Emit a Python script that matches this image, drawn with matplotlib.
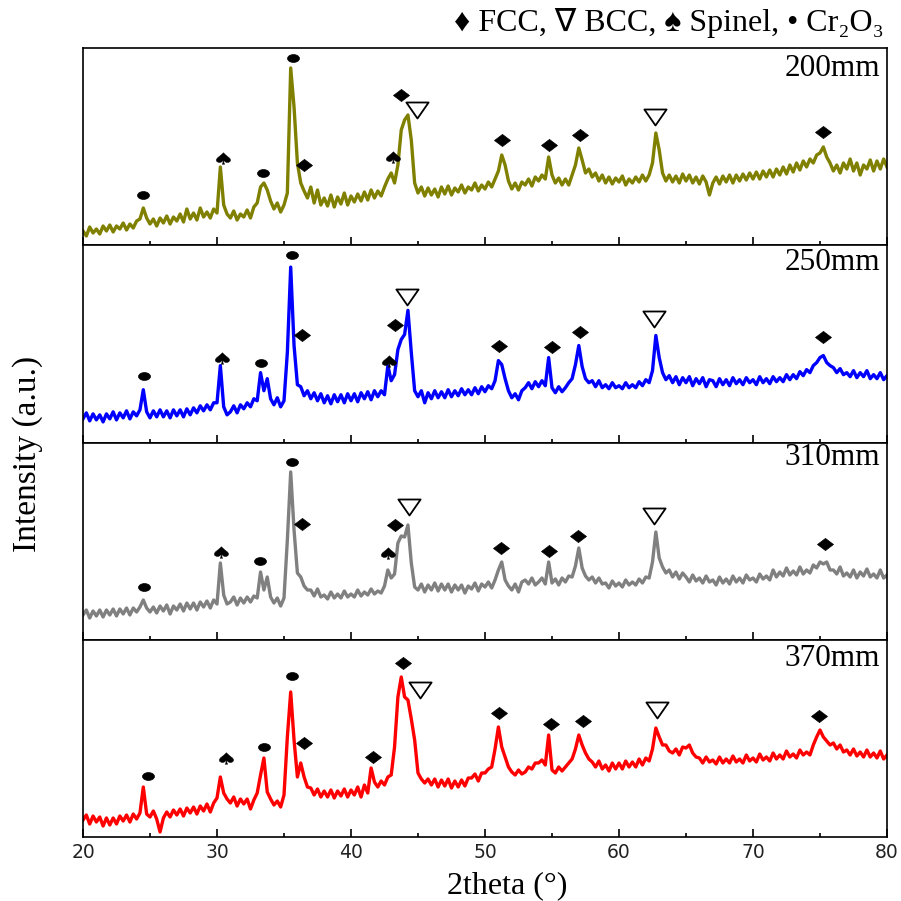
import numpy as np
import matplotlib
matplotlib.use('Agg')
import matplotlib.pyplot as plt
from matplotlib.path import Path
from matplotlib.textpath import TextPath
from matplotlib.font_manager import FontProperties
from matplotlib.ticker import MultipleLocator

# ---------------- data ----------------
two_theta = np.linspace(20, 80, 241)   # 0.25 deg sampling grid

i_200 = [14, 9, 18, 12, 16, 11, 19, 14, 20, 13, 19, 16, 22, 15, 21, 17, 24, 26, 37, 27,
         21, 26, 19, 27, 22, 29, 21, 28, 24, 31, 23, 36, 26, 32, 25, 37, 28, 33, 27, 36,
         32, 78, 40, 31, 27, 34, 25, 31, 28, 35, 27, 38, 42, 58, 62, 55, 44, 36, 42, 33,
         40, 52, 177, 138, 82, 62, 54, 47, 58, 42, 55, 40, 47, 39, 50, 38, 48, 41, 52, 40,
         49, 43, 51, 44, 53, 45, 55, 47, 54, 49, 58, 66, 72, 62, 80, 115, 125, 130, 105, 62,
         52, 58, 49, 57, 50, 56, 48, 58, 51, 59, 50, 57, 53, 60, 52, 58, 55, 62, 54, 60,
         56, 63, 58, 66, 74, 90, 80, 64, 56, 62, 55, 63, 60, 66, 59, 68, 64, 70, 66, 88,
         70, 62, 67, 60, 66, 60, 70, 80, 97, 85, 72, 76, 68, 72, 64, 70, 62, 68, 61, 67,
         63, 69, 60, 66, 62, 68, 63, 70, 64, 70, 82, 112, 95, 72, 64, 70, 63, 69, 62, 71,
         64, 70, 62, 68, 61, 69, 63, 50, 62, 68, 61, 69, 63, 70, 62, 70, 64, 71, 65, 72,
         66, 73, 66, 74, 68, 75, 68, 76, 70, 78, 71, 80, 73, 82, 75, 84, 78, 86, 82, 90,
         92, 98, 88, 82, 74, 80, 72, 82, 76, 86, 74, 82, 70, 80, 76, 85, 74, 84, 76, 86,
         78]

i_250 = [24, 30, 22, 29, 23, 28, 21, 29, 24, 31, 23, 30, 25, 32, 24, 31, 27, 33, 53, 31,
         25, 32, 26, 33, 26, 32, 25, 33, 27, 33, 26, 34, 28, 35, 30, 37, 32, 38, 33, 40,
         40, 77, 36, 28, 31, 37, 30, 38, 34, 40, 36, 44, 42, 70, 52, 64, 44, 38, 45, 36,
         42, 90, 175, 97, 58, 56, 47, 52, 44, 50, 42, 49, 40, 47, 39, 48, 41, 48, 40, 49,
         42, 49, 41, 50, 44, 51, 43, 52, 46, 52, 48, 77, 62, 68, 93, 103, 108, 132, 90, 52,
         46, 52, 40, 50, 44, 52, 45, 51, 45, 53, 46, 52, 47, 54, 48, 53, 48, 55, 49, 56,
         51, 57, 54, 62, 82, 78, 64, 52, 45, 49, 43, 52, 55, 60, 54, 61, 56, 62, 57, 85,
         55, 50, 56, 51, 55, 60, 64, 78, 97, 76, 64, 60, 62, 56, 62, 55, 58, 54, 60, 55,
         57, 54, 60, 55, 58, 55, 61, 57, 63, 60, 72, 107, 85, 70, 63, 67, 60, 66, 58, 65,
         60, 66, 57, 64, 59, 65, 56, 63, 62, 56, 64, 58, 63, 57, 65, 59, 63, 58, 65, 60,
         63, 58, 66, 60, 64, 59, 66, 61, 65, 61, 68, 63, 68, 64, 71, 67, 73, 70, 77, 80,
         85, 87, 80, 77, 75, 70, 74, 68, 70, 66, 72, 65, 70, 66, 72, 64, 68, 64, 70, 63,
         67]

i_310 = [25, 30, 22, 29, 24, 30, 23, 30, 25, 31, 24, 31, 26, 32, 25, 32, 28, 33, 40, 32,
         28, 33, 27, 34, 29, 35, 26, 34, 30, 36, 29, 37, 31, 37, 30, 38, 33, 39, 32, 40,
         36, 77, 45, 36, 38, 43, 35, 42, 37, 43, 38, 44, 42, 68, 50, 63, 43, 37, 42, 34,
         42, 100, 168, 110, 67, 63, 54, 50, 50, 44, 51, 43, 45, 41, 48, 42, 46, 42, 49, 43,
         46, 43, 50, 44, 48, 45, 51, 46, 49, 47, 54, 70, 62, 66, 97, 104, 103, 115, 77, 53,
         50, 56, 48, 55, 50, 57, 49, 56, 50, 56, 48, 55, 50, 55, 47, 54, 51, 57, 49, 56,
         53, 58, 52, 60, 70, 78, 60, 54, 50, 56, 48, 58, 60, 56, 62, 55, 58, 62, 56, 78,
         57, 61, 55, 62, 58, 64, 63, 74, 92, 72, 64, 60, 63, 57, 62, 56, 57, 52, 59, 54,
         57, 53, 60, 55, 58, 55, 61, 57, 63, 62, 78, 108, 82, 73, 67, 70, 63, 68, 61, 67,
         63, 58, 65, 59, 62, 57, 64, 58, 60, 55, 63, 57, 61, 56, 64, 58, 62, 57, 65, 60,
         62, 58, 66, 61, 64, 60, 70, 63, 68, 64, 72, 65, 69, 65, 73, 66, 70, 67, 75, 72,
         78, 76, 78, 70, 70, 66, 73, 64, 67, 63, 70, 62, 68, 64, 71, 63, 66, 62, 70, 62,
         65]

i_370 = [17, 22, 13, 21, 15, 20, 11, 19, 12, 19, 13, 21, 16, 22, 15, 23, 18, 24, 50, 23,
         20, 26, 18, 5, 19, 25, 20, 27, 22, 28, 21, 29, 24, 30, 23, 31, 26, 33, 25, 34,
         39, 60, 44, 38, 34, 40, 31, 38, 33, 38, 28, 37, 44, 62, 79, 45, 38, 32, 36, 30,
         42, 100, 145, 97, 60, 74, 60, 50, 49, 42, 48, 40, 46, 40, 47, 39, 46, 41, 48, 40,
         47, 42, 50, 40, 52, 44, 69, 55, 50, 56, 52, 60, 62, 90, 140, 160, 140, 137, 118, 97,
         64, 58, 54, 58, 52, 58, 50, 57, 51, 58, 49, 56, 50, 57, 51, 59, 59, 63, 56, 64,
         64, 68, 70, 88, 110, 90, 80, 70, 65, 62, 67, 63, 65, 70, 68, 74, 74, 77, 72, 102,
         67, 64, 70, 66, 70, 74, 78, 88, 102, 92, 84, 78, 75, 70, 76, 68, 72, 66, 74, 68,
         74, 68, 76, 70, 75, 70, 78, 72, 79, 76, 88, 109, 100, 92, 92, 86, 84, 88, 82, 90,
         89, 92, 84, 80, 79, 74, 80, 75, 77, 73, 80, 74, 78, 74, 81, 75, 78, 74, 82, 76,
         79, 75, 83, 77, 80, 76, 84, 78, 82, 78, 86, 80, 83, 79, 87, 82, 85, 82, 92, 100,
         107, 100, 96, 92, 94, 88, 92, 85, 87, 82, 88, 81, 85, 80, 87, 80, 84, 79, 86, 78,
         82]

sample_labels = ['200mm', '250mm', '310mm', '370mm']
line_colors = ['#808000', '#0000ff', '#808080', '#ff0000']

# phase markers: (phase, 2theta, height)
marks_200 = [('Cr2O3', 24.45, 50), ('Spinel', 30.27, 87), ('Cr2O3', 33.4, 72),
             ('Cr2O3', 35.7, 187), ('FCC', 36.5, 80), ('Spinel', 42.95, 88),
             ('FCC', 43.7, 150), ('BCC', 44.95, 135), ('FCC', 51.3, 105),
             ('FCC', 54.8, 100), ('FCC', 57.1, 110), ('BCC', 62.7, 128), ('FCC', 75.2, 113)]
marks_250 = [('Cr2O3', 24.55, 67), ('Spinel', 30.25, 85), ('Cr2O3', 33.26, 80),
             ('Cr2O3', 35.57, 187), ('FCC', 36.37, 107), ('Spinel', 42.7, 82),
             ('FCC', 43.26, 117), ('BCC', 44.2, 145), ('FCC', 51.04, 97),
             ('FCC', 55.0, 96), ('FCC', 57.09, 110), ('BCC', 62.64, 123), ('FCC', 75.25, 105)]
marks_310 = [('Cr2O3', 24.55, 53), ('Spinel', 30.15, 88), ('Cr2O3', 33.2, 79),
             ('Cr2O3', 35.6, 178), ('FCC', 36.37, 116), ('Spinel', 42.64, 87),
             ('FCC', 43.28, 115), ('BCC', 44.33, 133), ('FCC', 51.17, 92),
             ('FCC', 54.78, 89), ('FCC', 56.97, 104), ('BCC', 62.64, 124), ('FCC', 75.37, 96)]
marks_370 = [('Cr2O3', 24.85, 61), ('Spinel', 30.52, 79), ('Cr2O3', 33.5, 90),
             ('Cr2O3', 35.62, 161), ('FCC', 36.5, 94), ('FCC', 41.67, 80),
             ('FCC', 43.88, 174), ('BCC', 45.12, 147), ('FCC', 51.04, 124),
             ('FCC', 54.9, 113), ('FCC', 57.29, 116), ('BCC', 62.81, 127), ('FCC', 74.95, 121)]

series = [i_200, i_250, i_310, i_370]
marks = [marks_200, marks_250, marks_310, marks_370]
label_y = [0.898, 0.914, 0.925, 0.904]

# ---------------- marker shapes ----------------
diamond = Path([(-1, 0), (0, 0.76), (1, 0), (0, -0.76), (-1, 0)],
               [Path.MOVETO, Path.LINETO, Path.LINETO, Path.LINETO, Path.CLOSEPOLY])
tri_down = Path([(-1, 0.72), (1, 0.72), (0, -0.72), (-1, 0.72)],
                [Path.MOVETO, Path.LINETO, Path.LINETO, Path.CLOSEPOLY])
circ = Path.unit_circle()
ellipse = Path(circ.vertices * np.array([1.0, 0.66]), circ.codes)
tp = TextPath((0, 0), '\u2660', size=1, prop=FontProperties(family='DejaVu Sans'))
v = tp.vertices.copy()
v = v - (v.min(axis=0) + v.max(axis=0)) / 2
v[:, 0] *= 1.55
spade = Path(v, tp.codes)

marker_style = {
    'FCC': dict(marker=diamond, ms=11.5, mfc='black', mec='black', mew=0.5),
    'BCC': dict(marker=tri_down, ms=16, mfc='white', mec='black', mew=1.3),
    'Spinel': dict(marker=spade, ms=13, mfc='black', mec='black', mew=0.3),
    'Cr2O3': dict(marker=ellipse, ms=8.6, mfc='black', mec='black', mew=0.5),
}

# ---------------- figure ----------------
W = H = 901
fig = plt.figure(figsize=(W / 100, H / 100), dpi=100)
serif = ['Liberation Serif', 'DejaVu Serif']

left_px, right_px = 83, 887
tops = [48, 245, 443, 640]
bottoms = [245, 443, 640, 837]

for k in range(4):
    ax = fig.add_axes([left_px / W, 1 - bottoms[k] / H,
                       (right_px - left_px) / W, (bottoms[k] - tops[k]) / H])
    ax.plot(two_theta, series[k], color=line_colors[k], lw=2.4,
            solid_joinstyle='round', zorder=2)
    for phase, xm, ym in marks[k]:
        ax.plot([xm], [ym], linestyle='none', clip_on=False, zorder=3,
                **marker_style[phase])
    ax.set_xlim(20, 80)
    ax.set_ylim(0, 197)
    ax.set_yticks([])
    ax.xaxis.set_major_locator(MultipleLocator(10))
    ax.xaxis.set_minor_locator(MultipleLocator(5))
    ax.tick_params(axis='x', which='major', direction='in', length=6, width=1.2,
                   top=False, bottom=True)
    ax.tick_params(axis='x', which='minor', direction='in', length=3, width=1.2,
                   top=False, bottom=True)
    for sp in ax.spines.values():
        sp.set_linewidth(1.2)
    if k < 3:
        ax.set_xticklabels([])
    else:
        ax.tick_params(axis='x', which='major', labelsize=13.5, pad=4,
                       labelcolor='#222222')
        for t in ax.get_xticklabels():
            t.set_fontfamily('DejaVu Sans')
    ax.text(0.991, label_y[k], sample_labels[k], transform=ax.transAxes,
            ha='right', va='center', fontsize=22.5, family=serif)

fig.text(507 / W, 0.5 / H, '2theta (\u00b0)', ha='center', va='bottom',
         fontsize=23, family=serif)
fig.text(28 / W, 1 - 454 / H, 'Intensity (a.u.)', ha='center', va='center',
         rotation=90, fontsize=24, family=serif)
fig.text(884 / W, 1 - 23 / H,
         '\u2666 FCC, \u2207 BCC, \u2660 Spinel, \u2022 Cr\u2082O\u2083',
         ha='right', va='center', fontsize=23,
         family=['Liberation Serif', 'DejaVu Sans'])

fig.savefig('out.png', dpi=100)
